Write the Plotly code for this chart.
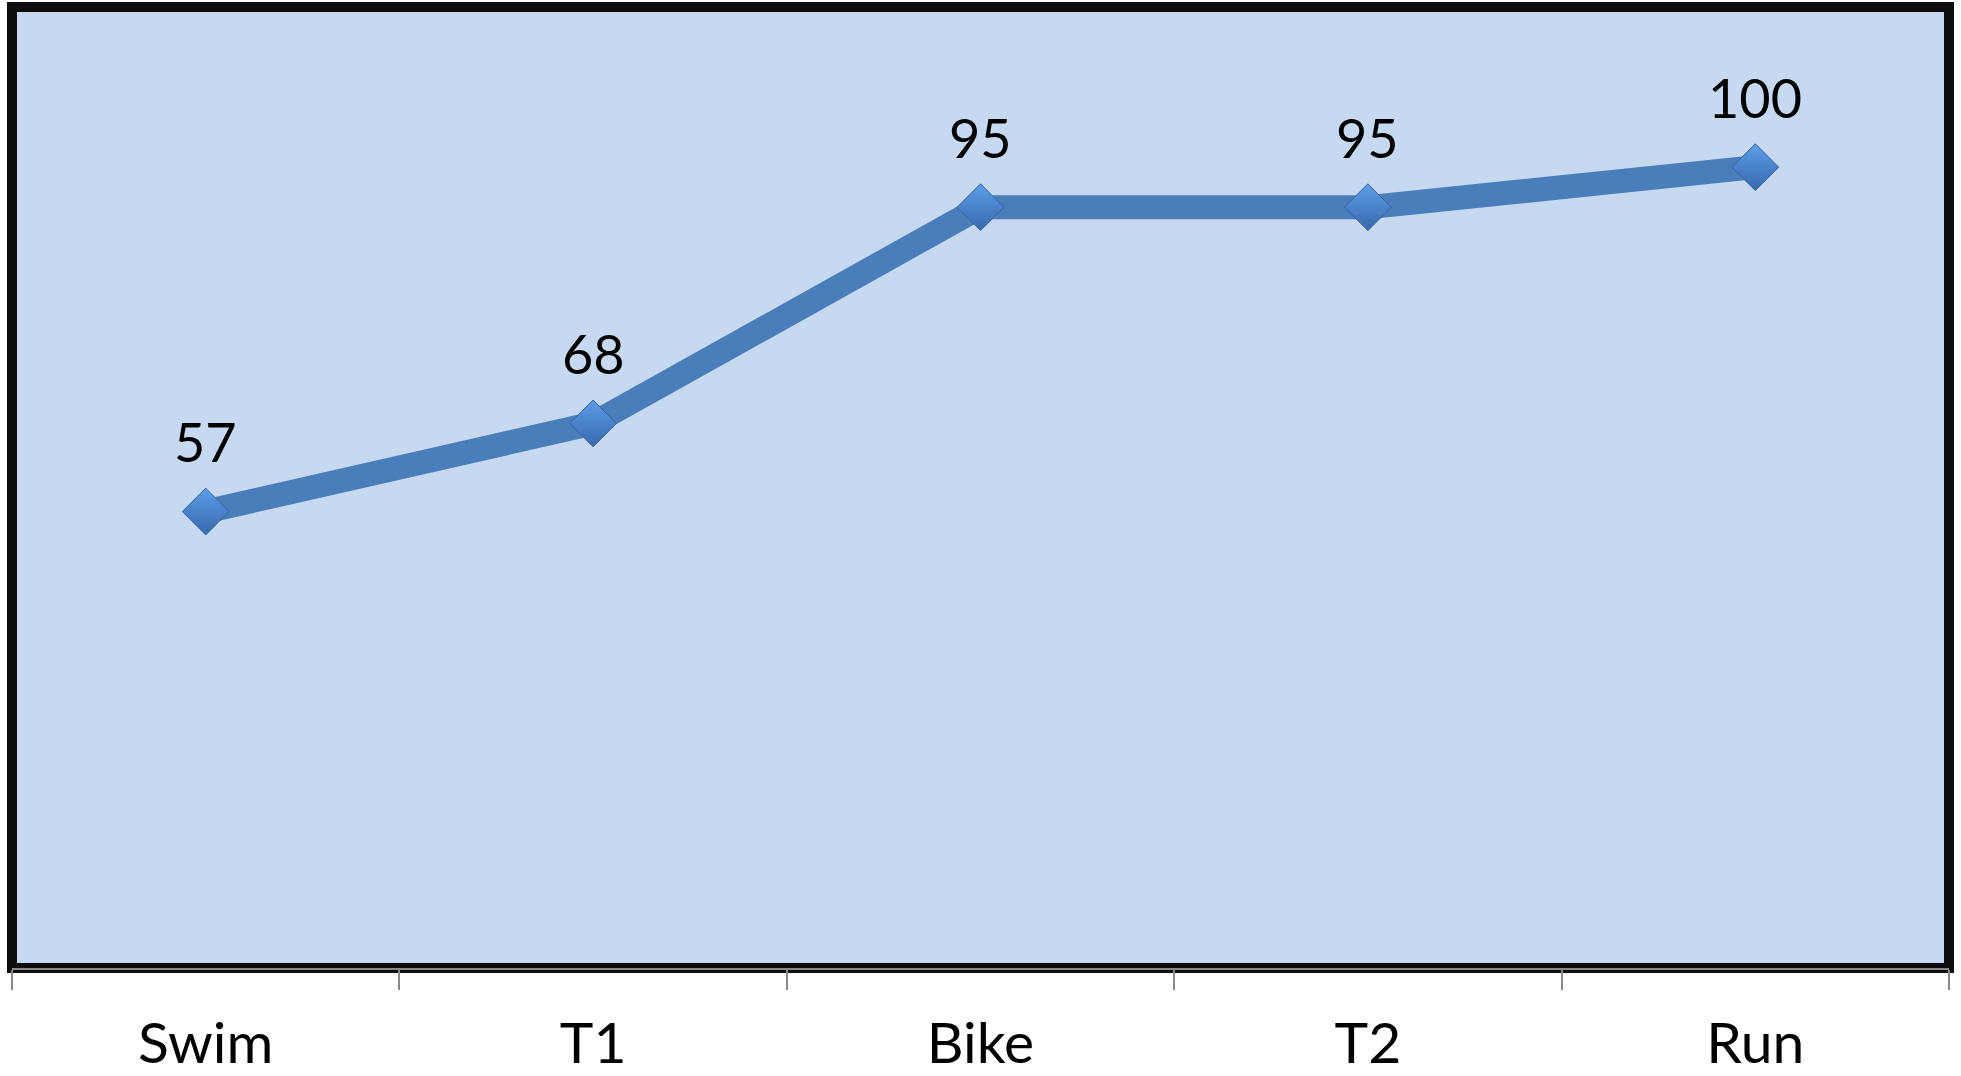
import plotly.graph_objects as go

# Triathlon stages and cumulative percentage values
stages = ["Swim", "T1", "Bike", "T2", "Run"]
values = [57, 68, 95, 95, 100]

FONT = "Lato"

fig = go.Figure()

fig.add_trace(go.Scatter(
    x=stages,
    y=values,
    mode="lines+markers",
    line=dict(color="#4A7EBB", width=24),
    marker=dict(
        symbol="diamond",
        size=36,
        color="#5C9DEA",
        gradient=dict(type="vertical", color="#3868AC"),
        line=dict(color="#35649F", width=1),
    ),
    hoverinfo="skip",
    showlegend=False,
))

# value labels above each point
for s, v in zip(stages, values):
    fig.add_annotation(
        x=s, y=v, text=str(v), showarrow=False,
        yanchor="middle", yshift=70,
        font=dict(family=FONT, size=54, color="#000000"),
    )

# heavy black frame around the plot area
fig.add_shape(
    type="rect", xref="paper", yref="paper",
    x0=0, x1=1, y0=0, y1=1,
    line=dict(color="#0D0D0D", width=10),
    layer="below",
)

fig.update_layout(
    width=1961, height=1076,
    margin=dict(l=12, r=12, t=7, b=108),
    paper_bgcolor="#FFFFFF",
    plot_bgcolor="#C6D9F0",
    font=dict(family=FONT, color="#000000"),
)

fig.update_xaxes(
    type="category",
    range=[-0.5, 4.5],
    tickson="boundaries",
    ticks="outside",
    ticklen=20,
    tickwidth=2,
    tickcolor="#898989",
    showline=True,
    linecolor="#898989",
    linewidth=2,
    showgrid=False,
    tickfont=dict(family=FONT, size=57, color="#000000"),
    ticklabelstandoff=25,
    automargin=False,
    fixedrange=True,
)

fig.update_yaxes(
    range=[0, 120],
    visible=False,
    showgrid=False,
    zeroline=False,
    automargin=False,
    fixedrange=True,
)

fig.write_html("out.html", config={"displayModeBar": False})
